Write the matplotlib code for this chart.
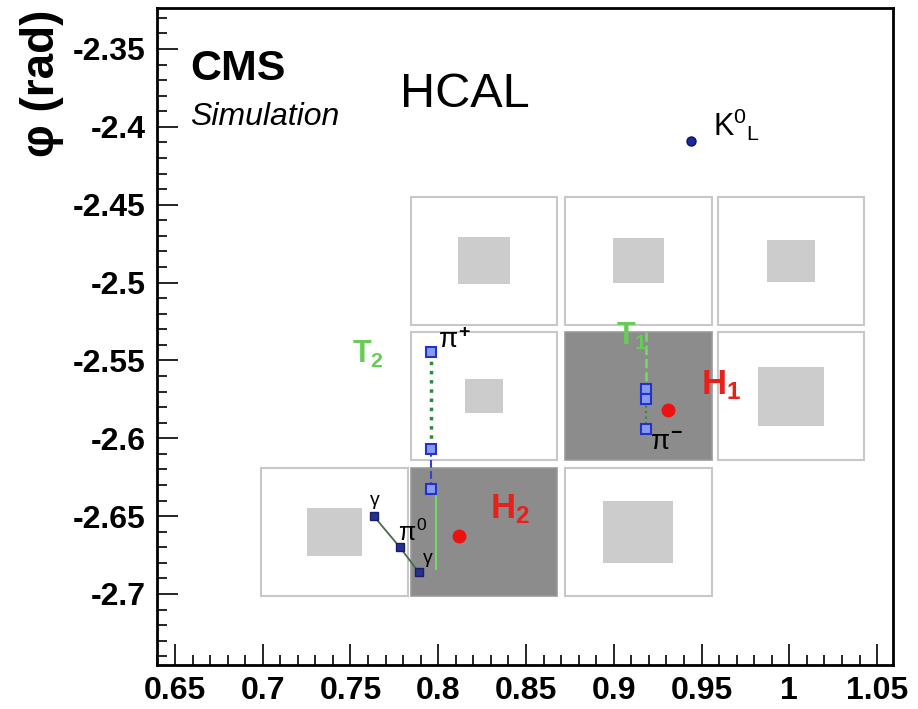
import matplotlib
matplotlib.use("Agg")
import matplotlib.pyplot as plt
from matplotlib.patches import Rectangle
from matplotlib.ticker import MultipleLocator

plt.rcParams['font.family'] = ['Liberation Sans', 'DejaVu Sans']
plt.rcParams['mathtext.fontset'] = 'custom'
plt.rcParams['mathtext.rm'] = 'Liberation Sans'
plt.rcParams['mathtext.it'] = 'Liberation Sans'
plt.rcParams['mathtext.bf'] = 'Liberation Sans:bold'

# HCAL cells (eta, phi centres), size of the energy box, dark = cluster seed cell
cell_eta = [0.826, 0.914, 1.001, 0.826, 0.914, 1.001, 0.741, 0.826, 0.914]
cell_phi = [-2.486, -2.486, -2.486, -2.573, -2.573, -2.573, -2.660, -2.660, -2.660]
cell_box = [0.030, 0.029, 0.027, 0.022, 0.0, 0.038, 0.031, 0.0, 0.040]
cell_dark = [False, False, False, False, True, False, False, True, False]

# tracks (points at the calorimeter layers)
t2_eta = [0.7957, 0.7957, 0.7957]
t2_phi = [-2.5446, -2.6069, -2.6326]
t2_end = -2.684
t1_eta = [0.9182, 0.9182, 0.9182]
t1_phi = [-2.5684, -2.5748, -2.5941]
t1_start = -2.5318

# pi0 photons
g_eta = [0.7632, 0.7780, 0.7888]
g_phi = [-2.6499, -2.6698, -2.6859]

# HCAL clusters and the K0L
h_eta = [0.9308, 0.8116]
h_phi = [-2.5819, -2.6628]
k_eta = [0.9439]
k_phi = [-2.4091]

fig = plt.figure(figsize=(9.18, 7.09), dpi=100)
ax = fig.add_axes([0.1707, 0.0621, 0.8021, 0.9262])

cw, ch = 0.0835, 0.082
for e, p, b, d in zip(cell_eta, cell_phi, cell_box, cell_dark):
    if d:
        ax.add_patch(Rectangle((e - cw / 2, p - ch / 2), cw, ch, facecolor='#8c8c8c',
                               edgecolor='#9a9a9a', lw=1.2, zorder=1))
    else:
        ax.add_patch(Rectangle((e - cw / 2, p - ch / 2), cw, ch, facecolor='white',
                               edgecolor='#c8c8c8', lw=1.5, zorder=1))
        ax.add_patch(Rectangle((e - b / 2, p - b / 2), b, b, facecolor='#cccccc',
                               edgecolor='none', zorder=2))

# T2 track
ax.plot([t2_eta[0], t2_eta[1]], [t2_phi[0], t2_phi[1]], ls=':', color='#2e8b3e', lw=2.5, zorder=3)
ax.plot([t2_eta[1], t2_eta[2]], [t2_phi[1], t2_phi[2]], ls='--', color='#3344cc', lw=1.5, zorder=3)
ax.plot([t2_eta[2] + 0.003, t2_eta[2] + 0.003], [t2_phi[2], t2_end], ls='-', color='#77d86a', lw=1.5, zorder=3)
ax.plot(t2_eta, t2_phi, ls='none', marker='s', ms=7, mfc='#8899ee', mec='#2233cc', mew=1.5, zorder=4)

# T1 track
ax.plot([t1_eta[0], t1_eta[0]], [t1_start, t1_phi[0]], ls='--', color='#77d86a', lw=1.8, zorder=3)
ax.plot(t1_eta, t1_phi, ls=':', color='#2e8b3e', lw=1.5, zorder=3)
ax.plot(t1_eta, t1_phi, ls='none', marker='s', ms=7, mfc='#8899ee', mec='#2233cc', mew=1.5, zorder=4)

# pi0 -> gamma gamma
ax.plot(g_eta, g_phi, ls='-', color='#4a6a4a', lw=1.3, zorder=3)
ax.plot(g_eta, g_phi, ls='none', marker='s', ms=6, mfc='#22338a', mec='#1a1a70', zorder=4)

ax.plot(h_eta, h_phi, ls='none', marker='o', ms=9, color='#ee1111', zorder=4)
ax.plot(k_eta, k_phi, ls='none', marker='o', ms=6.5, mfc='#1a2a9a', mec='#101060', zorder=4)

# labels
green = '#66cc55'
red = '#e8201a'
ax.annotate(r'$\pi^{\mathbf{+}}$', (t2_eta[0], t2_phi[0]), xytext=(5, 8), textcoords='offset points',
            ha='left', va='center', fontsize=20, zorder=5)
ax.annotate(r'$\pi^{\mathbf{-}}$', (t1_eta[2], t1_phi[2]), xytext=(3, -10), textcoords='offset points',
            ha='left', va='center', fontsize=20, zorder=5)
ax.annotate(r'$\mathbf{T_2}$', (t2_eta[0], t2_phi[0]), xytext=(-45, -2), textcoords='offset points',
            ha='center', va='center', fontsize=22, color=green, zorder=5)
ax.annotate(r'$\mathbf{T_1}$', (t1_eta[0], t1_start), xytext=(-10, -3), textcoords='offset points',
            ha='center', va='center', fontsize=22, color=green, zorder=5)
ax.annotate(r'$\mathbf{H_1}$', (h_eta[0], h_phi[0]), xytext=(38, 18), textcoords='offset points',
            ha='center', va='center', fontsize=25, color=red, zorder=5)
ax.annotate(r'$\mathbf{H_2}$', (h_eta[1], h_phi[1]), xytext=(37, 19), textcoords='offset points',
            ha='center', va='center', fontsize=25, color=red, zorder=5)
ax.annotate(r'K$^{0}$$_{L}$', (k_eta[0], k_phi[0]), xytext=(16, 12), textcoords='offset points',
            ha='left', va='center', fontsize=22, zorder=5)
ax.annotate(r'$\gamma$', (g_eta[0], g_phi[0]), xytext=(1, 10), textcoords='offset points',
            ha='center', va='center', fontsize=14, zorder=5)
ax.annotate(r'$\gamma$', (g_eta[2], g_phi[2]), xytext=(7, 9), textcoords='offset points',
            ha='center', va='center', fontsize=14, zorder=5)
ax.annotate(r'$\pi^{0}$', (g_eta[1], g_phi[1]), xytext=(-1, 10), textcoords='offset points',
            ha='left', va='center', fontsize=18, zorder=5)

ax.text(0.045, 0.891, 'CMS', transform=ax.transAxes, fontsize=31, fontweight='bold', va='baseline')
ax.text(0.045, 0.822, 'Simulation', transform=ax.transAxes, fontsize=23, style='italic', va='baseline')
ax.text(0.3306, 0.850, 'HCAL', transform=ax.transAxes, fontsize=35, va='baseline')

fig.text(0.046, 0.986, u'\u03c6 (rad)', rotation=90, ha='center', va='top',
         fontsize=33, fontweight='bold')

ax.set_xlim(0.6396, 1.0591)
ax.set_ylim(-2.7456, -2.3239)
ax.xaxis.set_minor_locator(MultipleLocator(0.01))
ax.yaxis.set_minor_locator(MultipleLocator(0.01))
ax.set_xticks([0.65, 0.7, 0.75, 0.8, 0.85, 0.9, 0.95, 1.0, 1.05])
ax.set_xticklabels(['0.65', '0.7', '0.75', '0.8', '0.85', '0.9', '0.95', '1', '1.05'])
ax.set_yticks([-2.35, -2.4, -2.45, -2.5, -2.55, -2.6, -2.65, -2.7])
ax.set_yticklabels(['-2.35', '-2.4', '-2.45', '-2.5', '-2.55', '-2.6', '-2.65', '-2.7'])
ax.tick_params(which='both', direction='in', width=1.2)
ax.tick_params(which='major', length=15, labelsize=23, pad=8)
ax.tick_params(which='minor', length=7)
for lab in ax.get_xticklabels() + ax.get_yticklabels():
    lab.set_fontweight('bold')
for s in ax.spines.values():
    s.set_linewidth(2)

fig.savefig('out.png', dpi=100)
